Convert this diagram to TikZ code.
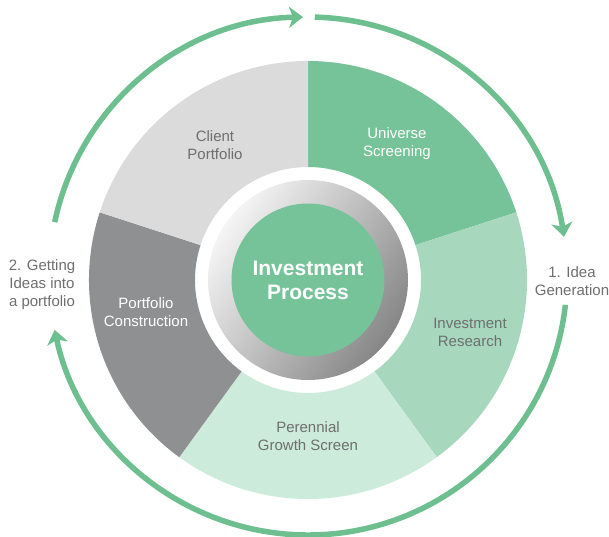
\documentclass[tikz,border=0pt]{standalone}
\usepackage{fontspec}
\setmainfont{Liberation Sans}
\usepackage{xcolor}
\usetikzlibrary{arrows.meta}

\definecolor{unigreen}{HTML}{76C399}
\definecolor{resgreen}{HTML}{A7D8BD}
\definecolor{pergreen}{HTML}{CCEBDA}
\definecolor{congray}{HTML}{8F9092}
\definecolor{cligray}{HTML}{DBDBDB}
\definecolor{ringgreen}{HTML}{6DBF8F}
\definecolor{labelgray}{HTML}{6E6E6E}

\begin{document}
\begin{tikzpicture}[x=1pt,y=1pt,
  seglabel/.style={align=center,font=\fontsize{15}{18}\selectfont,text=labelgray},
  cyclearrow/.style={draw=ringgreen,line width=5.5pt,-{Stealth[length=14pt,width=21pt,inset=4pt]}}]
\useasboundingbox (-308,-256) rectangle (301,280);
% wheel segments
\foreach \a/\c in {90/unigreen,18/resgreen,-54/pergreen,-126/congray,162/cligray}
  \fill[\c] (\a:113) arc[start angle=\a,delta angle=-72,radius=113]
    -- (\a-72:219) arc[start angle=\a-72,delta angle=72,radius=219] -- cycle;
% hub
\shade[top color=gray!8,bottom color=gray!95,shading angle=55] (0,0) circle[radius=100];
\node (hub) at (0,0) [circle,fill=unigreen,minimum size=153pt,inner sep=0pt,text=white,
  align=center,font=\bfseries\fontsize{21}{24}\selectfont] {Investment\\Process};
% labels
\node (cli) at (-93,135) [seglabel] {Client\\Portfolio};
\node (uni) at (89,136) [seglabel,text=white] {Universe\\Screening};
\node (res) at (162,-52) [seglabel] {Investment\\Research};
\node (per) at (0,-156) [seglabel] {Perennial\\Growth Screen};
\node (con) at (-162,-32) [seglabel,text=white] {Portfolio\\Construction};
\node (gen) at (264,-1) [seglabel] {1. Idea\\Generation};
\node (get) at (-266,-5) [seglabel] {2. Getting\\Ideas into\\a portfolio};
% outer cycle
\begin{scope}[shift={(0,4)}]
\coordinate (s1) at (88.5:259);
\coordinate (s2) at (-6.4:259);
\coordinate (s3) at (168:259);
\draw[cyclearrow] (s1) arc[start angle=88.5,end angle=8.7,radius=259];
\draw[cyclearrow] (s2) arc[start angle=-6.4,end angle=-168,radius=259];
\draw[cyclearrow] (s3) arc[start angle=168,end angle=91.1,radius=259];
\end{scope}
\end{tikzpicture}
\end{document}
